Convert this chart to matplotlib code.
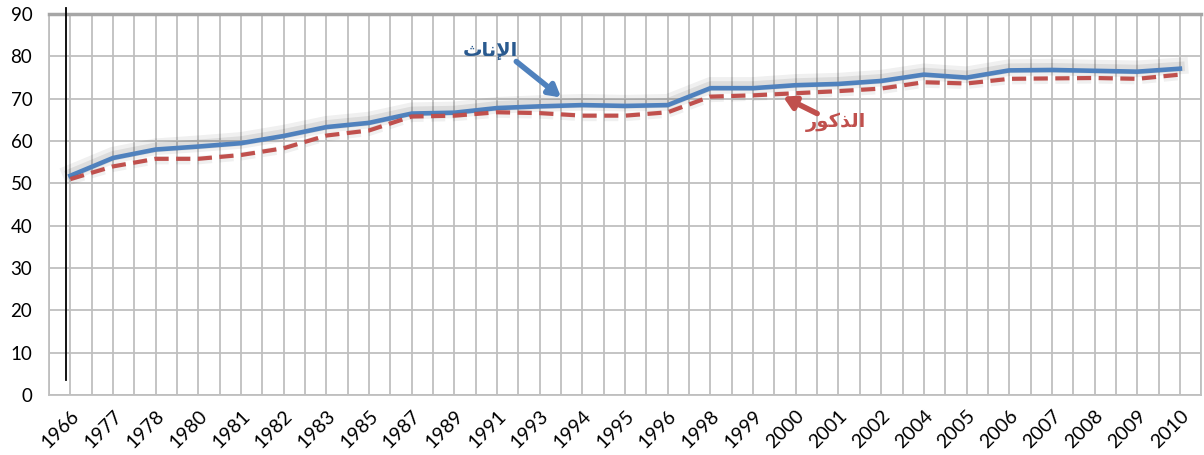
import matplotlib.pyplot as plt
import matplotlib.patheffects as pe
import numpy as np

# Data
years = ['1966', '1977', '1978', '1980', '1981', '1982', '1983', '1985', '1987',
         '1989', '1991', '1993', '1994', '1995', '1996', '1998', '1999', '2000',
         '2001', '2002', '2004', '2005', '2006', '2007', '2008', '2009', '2010']
females = [51.8, 56.0, 58.0, 58.7, 59.5, 61.2, 63.3, 64.3, 66.5, 66.7, 67.8, 68.2, 68.5,
           68.3, 68.5, 72.5, 72.5, 73.2, 73.5, 74.2, 75.7, 75.0, 76.7, 76.8, 76.6, 76.4, 77.1]
males = [51.0, 54.0, 55.8, 55.8, 56.7, 58.3, 61.3, 62.5, 65.8, 66.0, 66.8, 66.6, 66.0,
         66.0, 66.8, 70.5, 70.8, 71.3, 71.8, 72.4, 73.9, 73.6, 74.7, 74.8, 74.9, 74.7, 75.7]

# Arabic labels in presentation forms (visual order) so they render joined
label_f = '\ufe99\ufe8e\ufee7\ufef9\ufe8d'   # الإناث
label_m = '\ufead\ufeee\ufedb\ufeac\ufedf\ufe8d'  # الذكور

blue = '#4F81BD'
red = '#C0504D'

fig = plt.figure(figsize=(12.04, 4.55), dpi=100)
ax = fig.add_axes([0.0407, 0.132, 0.957, 0.837])

x = np.arange(len(years))
# soft glow-like shadow
shadow = [pe.Stroke(linewidth=11, foreground='#000000', alpha=0.05),
          pe.Stroke(linewidth=7, foreground='#000000', alpha=0.07),
          pe.Normal()]
ax.plot(x, females, color=blue, lw=3.3, solid_joinstyle='round',
        path_effects=[pe.SimpleLineShadow(offset=(0, 2), shadow_color='black', alpha=0.06, linewidth=12),
                      pe.SimpleLineShadow(offset=(0, 1.5), shadow_color='black', alpha=0.08, linewidth=7),
                      pe.Normal()], zorder=4)
ax.plot(x, males, color=red, lw=3.0, ls=(0, (3.4, 1.8)),
        path_effects=[pe.SimpleLineShadow(offset=(0, -1), shadow_color='black', alpha=0.06, linewidth=6),
                      pe.Normal()], zorder=5)

ax.set_xlim(-0.5, len(years) - 0.5)
ax.set_ylim(0, 90)
ax.set_yticks(range(0, 91, 10))
ax.set_xticks(x)
ax.set_xticklabels(years, rotation=45, ha='right', rotation_mode='anchor', fontsize=14, family='Lato')
ax.set_xticks(np.arange(-0.5, len(years), 0.5), minor=True)
for lab in ax.get_yticklabels():
    lab.set_family('Lato')
    lab.set_fontsize(13.5)
ax.tick_params(length=0, pad=12, which='both')
ax.tick_params(axis='x', pad=9)
ax.grid(True, which='both', axis='x', color='#BFBFBF', lw=1.3)
ax.grid(True, which='major', axis='y', color='#BFBFBF', lw=1.3)
ax.set_axisbelow(True)
for s in ax.spines.values():
    s.set_color('#BFBFBF')
    s.set_linewidth(1.3)
ax.spines['top'].set_color('#A6A6A6')
ax.spines['top'].set_linewidth(2.5)

# thin black vertical line near the left edge
ax.axvline(-0.09, ymin=0.04, ymax=1.017, color='black', lw=1.3, clip_on=False, zorder=6)

# annotations
ax.annotate('', xy=(11.5, 70.3), xytext=(10.45, 78.8),
            arrowprops=dict(arrowstyle='-|>,head_length=0.7,head_width=0.4', color=blue, lw=4,
                            shrinkA=0, shrinkB=0), zorder=7)
ax.text(9.85, 81.3, label_f, color='#2A5A8F', fontsize=14, fontweight='bold',
        family='DejaVu Sans', ha='center', va='center', zorder=7)
ax.annotate('', xy=(16.7, 70.5), xytext=(17.5, 66.5),
            arrowprops=dict(arrowstyle='-|>,head_length=0.7,head_width=0.4', color=red, lw=4,
                            shrinkA=0, shrinkB=0), zorder=7)
ax.text(17.95, 64.5, label_m, color=red, fontsize=14, fontweight='bold',
        family='DejaVu Sans', ha='center', va='center', zorder=7)

plt.savefig('out.png', dpi=100)
